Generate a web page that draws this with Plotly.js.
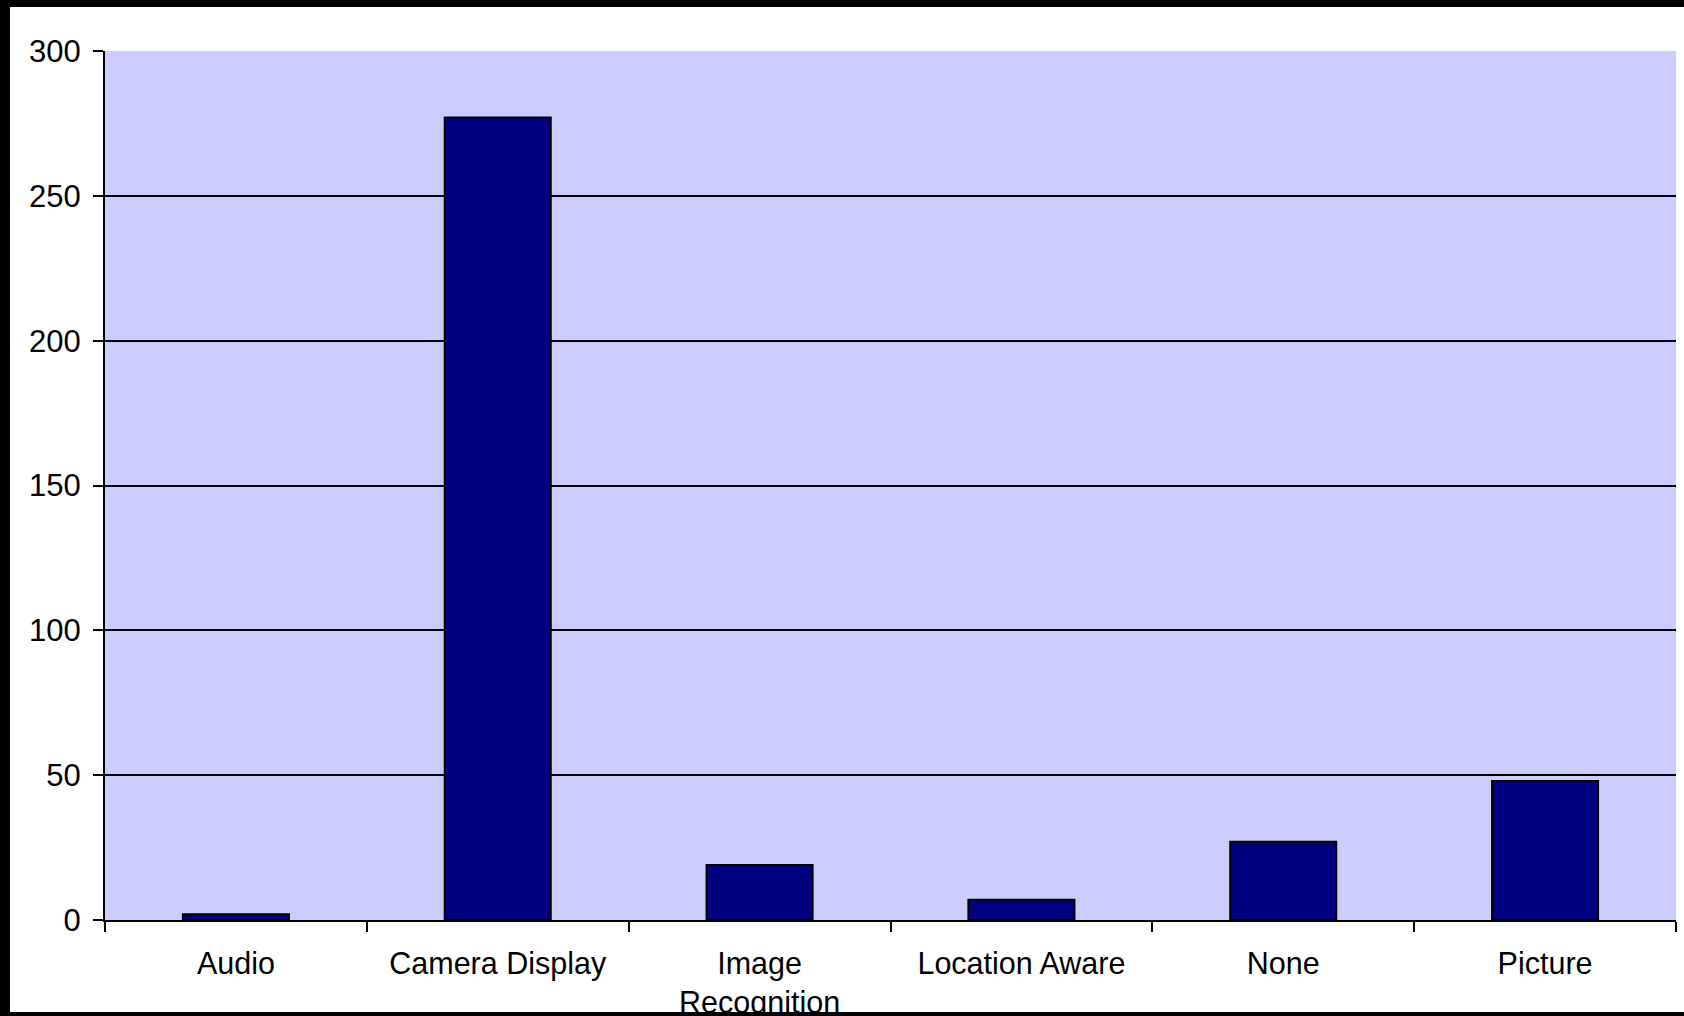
<!DOCTYPE html>
<html>
<head>
<meta charset="utf-8">
<script src="https://cdn.plot.ly/plotly-3.0.1.min.js"></script>
<style>
  html, body { margin: 0; padding: 0; background: #000; width: 1684px; height: 1016px; overflow: hidden; }
  #chart { position: absolute; left: 10px; top: 7px; width: 1674px; height: 1005px; background: #fff; }
</style>
</head>
<body>
<div id="chart"></div>
<script>
const categories = ["Audio", "Camera Display", "Image<br>Recognition", "Location Aware", "None", "Picture"];
const counts = [2, 277, 19, 7, 27, 48];
const yTickValues = [0, 50, 100, 150, 200, 250, 300];

const trace = {
  type: "bar",
  x: categories,
  y: counts,
  marker: { color: "#000080", line: { color: "#000000", width: 2 } },
  hoverinfo: "x+y"
};

const layout = {
  width: 1674,
  height: 1005,
  margin: { l: 95, r: 8, t: 44, b: 92 },
  paper_bgcolor: "#ffffff",
  plot_bgcolor: "#ccccff",
  showlegend: false,
  bargap: 0.595,
  font: { family: "Liberation Sans, Arial, sans-serif", color: "#000000", size: 30 },
  xaxis: {
    type: "category",
    showline: true,
    linecolor: "#000000",
    linewidth: 2,
    ticks: "outside",
    tickson: "boundaries",
    ticklen: 10,
    tickwidth: 2,
    tickcolor: "#000000",
    showgrid: false,
    tickfont: { size: 30.5, family: "Liberation Sans, Arial, sans-serif", color: "#000" },
    ticklabelstandoff: 15
  },
  yaxis: {
    range: [0, 300],
    tickvals: yTickValues,
    ticktext: yTickValues.map(String),
    showline: true,
    linecolor: "#000000",
    linewidth: 2,
    ticks: "outside",
    ticklen: 10,
    tickwidth: 2,
    tickcolor: "#000000",
    showgrid: true,
    gridcolor: "#000000",
    gridwidth: 2,
    zeroline: false,
    tickfont: { size: 31, family: "Liberation Sans, Arial, sans-serif", color: "#000" },
    ticklabelstandoff: 6
  }
};

Plotly.newPlot("chart", [trace], layout, { displayModeBar: false, staticPlot: true });
</script>
</body>
</html>
